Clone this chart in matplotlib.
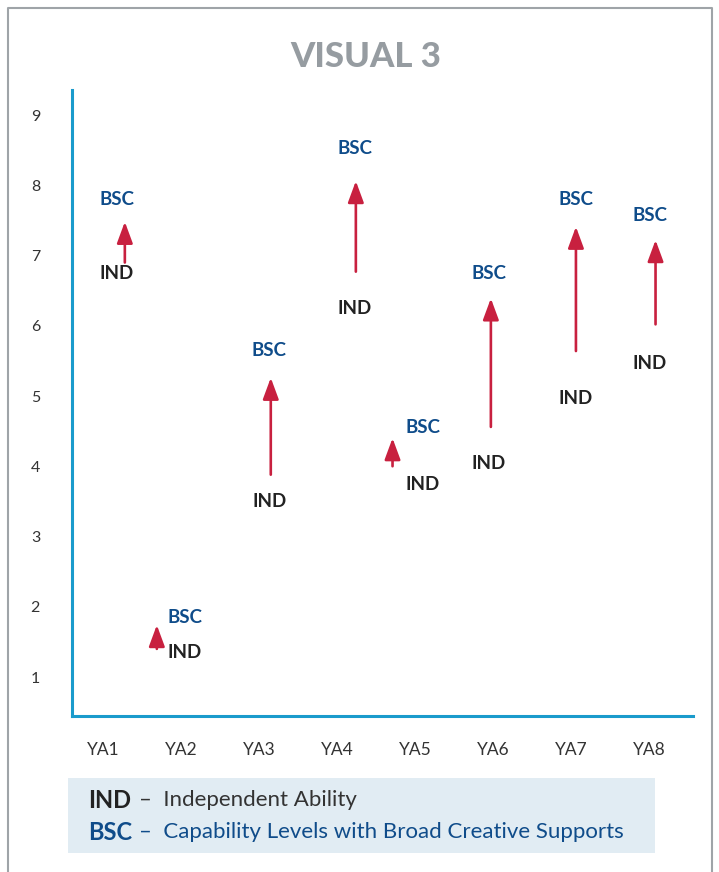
import matplotlib
matplotlib.use("Agg")
import matplotlib.pyplot as plt
from matplotlib.patches import Rectangle
from matplotlib.lines import Line2D

# data
categories = ["YA1", "YA2", "YA3", "YA4", "YA5", "YA6", "YA7", "YA8"]
ind = [6.9, 1.4, 3.88, 6.77, 4.0, 4.56, 5.64, 6.02]
bsc = [7.48, 1.74, 5.26, 8.06, 4.4, 6.39, 7.41, 7.22]
yticks = [1, 2, 3, 4, 5, 6, 7, 8, 9]

# layout nudges (category units / pixels)
arrow_dx = [0.28, -0.31, 0.15, 0.24, -0.29, -0.03, 0.06, 0.08]
label_dx = [0.18, 0.05, 0.13, 0.23, 0.10, -0.06, 0.06, 0.01]
ind_dy = [11, 4, 27, 37, 18, 37, 47, 39]
bsc_dy = [22, 8, 27, 33, 11, 25, 27, 25]

red = "#c8203f"
blue = "#0f4c8a"
spine = "#1a9bcc"
font = "Lato"

W, H = 719, 872
fig = plt.figure(figsize=(W / 100, H / 100), dpi=100)
ax = fig.add_axes([72 / W, 1 - 716 / H, (693 - 72) / W, (716 - 90) / H])

x = list(range(1, len(categories) + 1))
px = 72 / 100  # one pixel in points

for i in range(len(categories)):
    xa = x[i] + arrow_dx[i]
    ax.annotate("", xy=(xa, bsc[i]), xytext=(xa, ind[i]),
                arrowprops=dict(arrowstyle="-|>,head_length=1.3,head_width=0.48",
                                mutation_scale=10, color=red, lw=1.9,
                                shrinkA=0, shrinkB=0))
    xl = x[i] + label_dx[i]
    ax.annotate("IND", xy=(xl, ind[i]), xytext=(0, -ind_dy[i] * px),
                textcoords="offset points", ha="center", va="center",
                fontsize=13.5, fontweight="bold", color="#222222", family=font)
    ax.annotate("BSC", xy=(xl, bsc[i]), xytext=(0, bsc_dy[i] * px),
                textcoords="offset points", ha="center", va="center",
                fontsize=13.5, fontweight="bold", color=blue, family=font)

ax.set_xlim(0.603, 8.56)
ax.set_ylim(0.445, 9.356)
ax.set_xticks(x)
ax.set_xticklabels(categories, family=font, fontsize=12.5, color="#333333")
ax.set_yticks(yticks)
ax.set_yticklabels([str(t) for t in yticks], family=font, fontsize=11.5, color="#333333")
ax.tick_params(axis="both", length=0)
ax.tick_params(axis="x", pad=19)
ax.tick_params(axis="y", pad=23)
for s in ["top", "right"]:
    ax.spines[s].set_visible(False)
for s in ["left", "bottom"]:
    ax.spines[s].set_color(spine)
    ax.spines[s].set_linewidth(2.2)

# title
fig.text(366 / W, 1 - 57 / H, "VISUAL 3", ha="center", va="center",
         fontsize=25, fontweight="black", color="#969ca1", family=font)

# outer frame
frame = "#9fa4a8"
fig.add_artist(Line2D([8 / W, 8 / W, 712 / W, 712 / W], [0, 1 - 8 / H, 1 - 8 / H, 0],
                      transform=fig.transFigure, color=frame, lw=1.5))

# legend box
fig.add_artist(Rectangle((68 / W, 1 - 853 / H), (655 - 68) / W, 75 / H,
                         transform=fig.transFigure, facecolor="#e1ecf3", edgecolor="none"))
fig.text(88 / W, 1 - 800 / H, "IND", ha="left", va="center", fontsize=17,
         fontweight="bold", color="#222222", family=font)
fig.text(139 / W, 1 - 800 / H, "–  Independent Ability", ha="left", va="center",
         fontsize=16, fontweight="normal", color="#333333", family=font)
fig.text(88 / W, 1 - 832 / H, "BSC", ha="left", va="center", fontsize=17,
         fontweight="bold", color=blue, family=font)
fig.text(139 / W, 1 - 832 / H, "–  Capability Levels with Broad Creative Supports",
         ha="left", va="center", fontsize=16, fontweight="normal", color=blue, family=font)

fig.savefig("out.png", dpi=100)
